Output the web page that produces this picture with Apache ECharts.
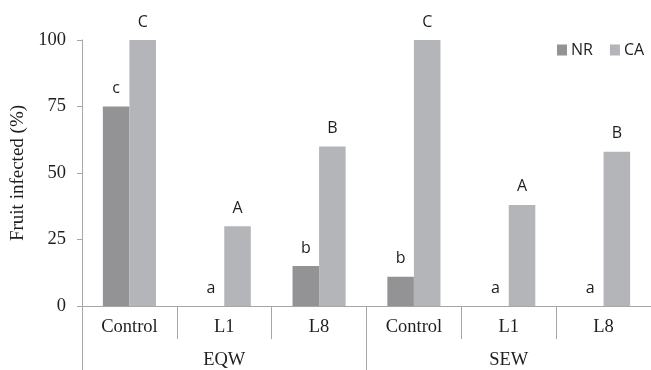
<!DOCTYPE html>
<html>
<head>
<meta charset="utf-8">
<script src="https://cdn.jsdelivr.net/npm/echarts@6/dist/echarts.min.js"></script>
<style>html,body{margin:0;padding:0;background:#fff;}#c{width:651px;height:370px;}</style>
</head>
<body>
<div id="c"></div>
<script>
const categories = ['Control', 'L1', 'L8', 'Control', 'L1', 'L8'];
const groups = ['EQW', 'SEW'];
const seriesNames = ['NR', 'CA'];
const nrValues = [75, 0, 15, 11, 0, 0];
const caValues = [100, 30, 60, 100, 38, 58];
const nrLetters = ['c', 'a', 'b', 'b', 'a', 'a'];
const caLetters = ['C', 'A', 'B', 'C', 'A', 'B'];
const yTicks = [0, 25, 50, 75, 100];
const yTitle = 'Fruit infected (%)';

const serif = '"Liberation Serif", "Times New Roman", serif';
const sans = '"Open Sans", sans-serif';
const axisColor = '#a6a6a6';
const textColor = '#1e1e1e';

function mk(values, letters) {
  return values.map((v, i) => ({ value: v, label: { formatter: letters[i] } }));
}

const chart = echarts.init(document.getElementById('c'), null, { renderer: 'canvas' });
chart.setOption({
  animation: false,
  backgroundColor: '#ffffff',
  grid: { left: 82, top: 40, width: 576, height: 266, containLabel: false },
  legend: {
    data: seriesNames,
    orient: 'horizontal',
    left: 557, top: 42, padding: 0, width: 94,
    itemWidth: 10, itemHeight: 11, itemGap: 17,
    icon: 'rect',
    textStyle: { fontFamily: sans, fontSize: 16, color: textColor, padding: [0, 0, 0, -1] }
  },
  xAxis: [
    {
      type: 'category', data: categories, position: 'bottom',
      axisLine: { show: true, lineStyle: { color: axisColor, width: 1 } },
      axisTick: { show: true, length: 33, alignWithLabel: false, lineStyle: { color: axisColor } },
      axisLabel: { margin: 12, fontFamily: serif, fontSize: 18.5, color: textColor, interval: 0 }
    },
    {
      type: 'category', data: groups, position: 'bottom',
      axisLine: { show: false },
      axisTick: { show: true, length: 70, lineStyle: { color: axisColor } },
      axisLabel: { margin: 45, fontFamily: serif, fontSize: 18.5, color: textColor, interval: 0 }
    }
  ],
  yAxis: {
    type: 'value', min: yTicks[0], max: yTicks[yTicks.length - 1], interval: 25,
    name: yTitle, nameLocation: 'middle', nameGap: 54, nameRotate: 90,
    nameTextStyle: { fontFamily: serif, fontSize: 19, color: textColor },
    axisLine: { show: true, lineStyle: { color: axisColor } },
    axisTick: { show: true, length: 5, lineStyle: { color: axisColor } },
    axisLabel: { margin: 16, fontFamily: serif, fontSize: 18.5, color: textColor },
    splitLine: { show: false }
  },
  series: [
    {
      name: seriesNames[0], type: 'bar', xAxisIndex: 0,
      data: mk(nrValues, nrLetters),
      itemStyle: { color: '#939396' },
      barGap: '0%', barCategoryGap: '44%',
      label: { show: true, position: 'top', distance: 10, fontFamily: sans, fontSize: 16, color: textColor }
    },
    {
      name: seriesNames[1], type: 'bar', xAxisIndex: 0,
      data: mk(caValues, caLetters),
      itemStyle: { color: '#b4b5b9' },
      barGap: '0%', barCategoryGap: '44%',
      label: { show: true, position: 'top', distance: 10, fontFamily: sans, fontSize: 16, color: textColor }
    }
  ]
});
</script>
</body>
</html>
